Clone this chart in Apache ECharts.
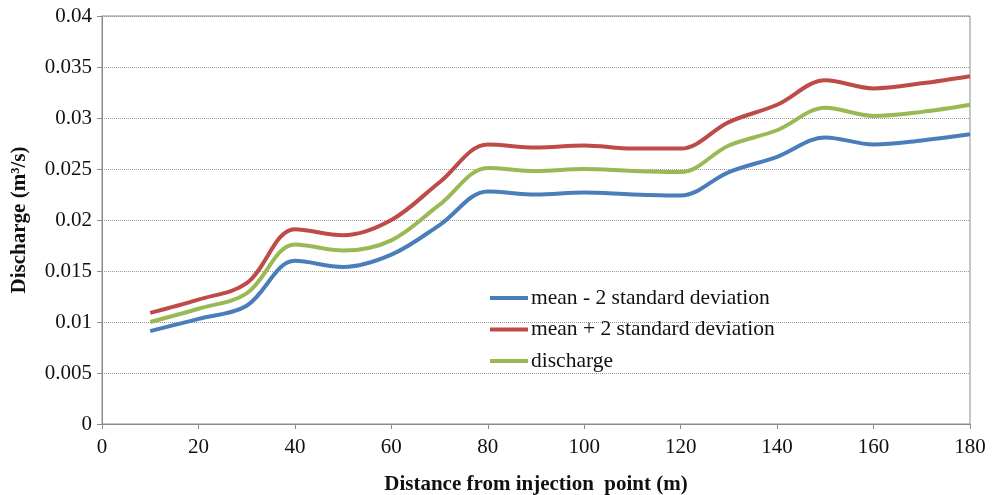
<!DOCTYPE html>
<html>
<head>
<meta charset="utf-8">
<script src="https://cdn.jsdelivr.net/npm/echarts@6/dist/echarts.min.js"></script>
<style>
  html, body { margin: 0; padding: 0; background: #fff; }
  #chart { width: 992px; height: 495px; }
</style>
</head>
<body>
<div id="chart"></div>
<script>
// distance from injection point (m)
const distances = [10, 20, 30, 40, 50, 60, 70, 80, 90, 100, 110, 120, 130, 140, 150, 160, 170, 180];

// discharge values (m3/s)
const lowerBand = [0.0091, 0.0103, 0.0116, 0.0160, 0.0154, 0.0166, 0.0195, 0.0228, 0.0225, 0.0227, 0.0225, 0.0224, 0.0247, 0.0262, 0.0281, 0.0274, 0.0278, 0.0284];
const upperBand = [0.0109, 0.0122, 0.0138, 0.0191, 0.0185, 0.0200, 0.0237, 0.0274, 0.0271, 0.0273, 0.0270, 0.0270, 0.0296, 0.0313, 0.0337, 0.0329, 0.0334, 0.0341];
const discharge = [0.0100, 0.0113, 0.0128, 0.0176, 0.0170, 0.0180, 0.0215, 0.0251, 0.0248, 0.0250, 0.0248, 0.0247, 0.0273, 0.0288, 0.0310, 0.0302, 0.0306, 0.0313];

const seriesNames = ["mean - 2 standard deviation", "mean + 2 standard deviation", "discharge"];
const seriesColors = ["#4a7ebb", "#be4b48", "#98b954"];

const pair = (ys) => distances.map((x, i) => [x, ys[i]]);

const chart = echarts.init(document.getElementById("chart"));

const font = "'Liberation Serif', 'Times New Roman', serif";
const axisGrey = "#8c8c8c";

const option = {
  animation: false,
  textStyle: { fontFamily: font },
  grid: {
    left: 102,
    right: 22,
    top: 16,
    bottom: 71,
    outerBoundsMode: "none",
    containLabel: false,
    show: true,
    borderColor: axisGrey,
    borderWidth: 1,
  },
  legend: {
    orient: "vertical",
    left: 490,
    top: 287,
    padding: 0,
    itemWidth: 38,
    itemHeight: 4,
    itemGap: 9.5,
    icon: "rect",
    textStyle: { fontFamily: font, fontSize: 21.5, color: "#111", padding: [0, 0, 0, -2] },
    data: seriesNames,
  },
  xAxis: {
    type: "value",
    min: 0,
    max: 180,
    interval: 20,
    name: "Distance from injection  point (m)",
    nameLocation: "middle",
    nameGap: 50,
    nameTextStyle: { fontFamily: font, fontSize: 21, fontWeight: "bold", color: "#111" },
    axisLine: { lineStyle: { color: axisGrey } },
    axisTick: { show: true, length: 5, lineStyle: { color: axisGrey } },
    axisLabel: { fontFamily: font, fontSize: 21, color: "#111", margin: 13 },
    splitLine: { show: false },
  },
  yAxis: {
    type: "value",
    min: 0,
    max: 0.04,
    interval: 0.005,
    name: "Discharge (m³/s)",
    nameLocation: "middle",
    nameGap: 72,
    nameTextStyle: { fontFamily: font, fontSize: 21, fontWeight: "bold", color: "#111" },
    axisLine: { show: true, lineStyle: { color: axisGrey } },
    axisTick: { show: true, length: 5, lineStyle: { color: axisGrey } },
    axisLabel: { fontFamily: font, fontSize: 21, color: "#111", margin: 10 },
    splitLine: { show: true, lineStyle: { color: "#999", type: [1, 1], width: 1 } },
  },
  series: [lowerBand, upperBand, discharge].map((ys, i) => ({
    name: seriesNames[i],
    type: "line",
    data: pair(ys),
    smooth: 0.35,
    symbol: "none",
    lineStyle: { width: 4, color: seriesColors[i] },
    itemStyle: { color: seriesColors[i] },
  })),
};

chart.setOption(option);
</script>
</body>
</html>
